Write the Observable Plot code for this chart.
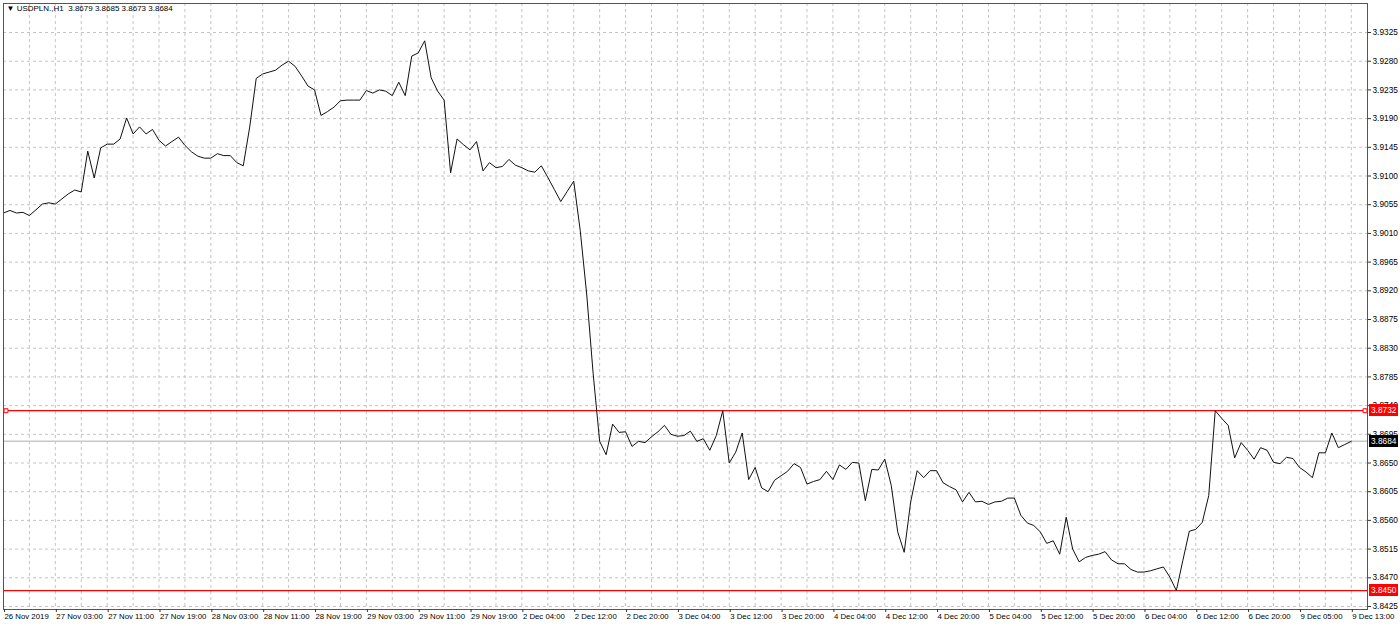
<!DOCTYPE html>
<html>
<head>
<meta charset="utf-8">
<script src="https://cdn.jsdelivr.net/npm/d3@7"></script>
<script src="https://cdn.jsdelivr.net/npm/@observablehq/plot@0.6"></script>
<style>
  html, body { margin: 0; padding: 0; background: #fff; }
  #chart svg { display: block; }
</style>
</head>
<body>
<div id="chart"></div>
<script>
// ---- data (hourly closes, USDPLN H1, 26 Nov 2019 19:00 .. 9 Dec 2019 13:00) ----
const closes = [
  3.9042, 3.9046, 3.9042, 3.9043, 3.9038, 3.9047, 3.9056, 3.9058, 3.9056, 3.9064,
  3.9072, 3.9078, 3.9075, 3.9139, 3.9097, 3.9144, 3.9150, 3.9150, 3.9158, 3.9191,
  3.9166, 3.9177, 3.9166, 3.9173, 3.9156, 3.9147, 3.9154, 3.9161, 3.9148, 3.9138,
  3.9131, 3.9128, 3.9128, 3.9135, 3.9132, 3.9132, 3.9121, 3.9116, 3.9177, 3.9253,
  3.9260, 3.9263, 3.9266, 3.9274, 3.9280, 3.9272, 3.9257, 3.9241, 3.9235, 3.9195,
  3.9201, 3.9208, 3.9218, 3.9219, 3.9219, 3.9219, 3.9234, 3.9230, 3.9235, 3.9233,
  3.9226, 3.9247, 3.9226, 3.9288, 3.9293, 3.9312, 3.9254, 3.9233, 3.9219, 3.9105,
  3.9158, 3.9149, 3.9141, 3.9154, 3.9108, 3.9121, 3.9113, 3.9115, 3.9126, 3.9117,
  3.9113, 3.9108, 3.9106, 3.9116, 3.9098, 3.9079, 3.9060, 3.9076, 3.9092, 3.9015,
  3.8915, 3.8790, 3.8684, 3.8663, 3.8711, 3.8698, 3.8699, 3.8676, 3.8684, 3.8682,
  3.8691, 3.8699, 3.8709, 3.8695, 3.8692, 3.8693, 3.8700, 3.8684, 3.8688, 3.8670,
  3.8693, 3.8732, 3.8650, 3.8667, 3.8697, 3.8624, 3.8643, 3.8611, 3.8605, 3.8623,
  3.8630, 3.8637, 3.8649, 3.8643, 3.8617, 3.8621, 3.8624, 3.8637, 3.8624, 3.8647,
  3.8640, 3.8651, 3.8650, 3.8591, 3.8640, 3.8639, 3.8656, 3.8615, 3.8542, 3.8510,
  3.8589, 3.8638, 3.8627, 3.8638, 3.8638, 3.8619, 3.8613, 3.8608, 3.8589, 3.8604,
  3.8589, 3.8590, 3.8585, 3.8589, 3.8590, 3.8595, 3.8595, 3.8568, 3.8556, 3.8552,
  3.8542, 3.8524, 3.8528, 3.8507, 3.8565, 3.8515, 3.8495, 3.8502, 3.8505, 3.8507,
  3.8511, 3.8498, 3.8492, 3.8492, 3.8483, 3.8479, 3.8479, 3.8481, 3.8484, 3.8487,
  3.8471, 3.8450, 3.8497, 3.8543, 3.8546, 3.8557, 3.8599, 3.8732, 3.8720, 3.8709,
  3.8658, 3.8682, 3.8670, 3.8656, 3.8674, 3.8670, 3.8651, 3.8649, 3.8659, 3.8657,
  3.8643, 3.8636, 3.8627, 3.8666, 3.8666, 3.8697, 3.8674, 3.8679, 3.8684
];

const xTickBars = [0, 8, 16, 24, 32, 40, 48, 56, 64, 72, 80, 88, 96, 104, 112, 120,
                   128, 136, 144, 152, 160, 168, 176, 184, 192, 200, 208];
const xTickLabels = ["26 Nov 2019", "27 Nov 03:00", "27 Nov 11:00", "27 Nov 19:00",
  "28 Nov 03:00", "28 Nov 11:00", "28 Nov 19:00", "29 Nov 03:00", "29 Nov 11:00",
  "29 Nov 19:00", "2 Dec 04:00", "2 Dec 12:00", "2 Dec 20:00", "3 Dec 04:00",
  "3 Dec 12:00", "3 Dec 20:00", "4 Dec 04:00", "4 Dec 12:00", "4 Dec 20:00",
  "5 Dec 04:00", "5 Dec 12:00", "5 Dec 20:00", "6 Dec 04:00", "6 Dec 12:00",
  "6 Dec 20:00", "9 Dec 05:00", "9 Dec 13:00"];

const yTicks = [3.9325, 3.9280, 3.9235, 3.9190, 3.9145, 3.9100, 3.9055, 3.9010,
  3.8965, 3.8920, 3.8875, 3.8830, 3.8785, 3.8740, 3.8695, 3.8650, 3.8605, 3.8560,
  3.8515, 3.8470, 3.8425];

const levels = [3.8732, 3.8450];      // red horizontal lines
const lastPrice = 3.8684;             // current bid
const ohlc = [3.8679, 3.8685, 3.8673, 3.8684];
const symbol = "USDPLN.,H1";

// ---- chart ----
const series = closes.map((c, i) => ({i, c}));
const labelOf = new Map(xTickBars.map((b, k) => [b, xTickLabels[k]]));
const gridBars = d3.range(4, 211, 4);
const boxes = [
  {value: levels[0], bg: "#ff0000", fg: "#ffffff"},
  {value: lastPrice, bg: "#000000", fg: "#ffffff"},
  {value: levels[1], bg: "#ff0000", fg: "#ffffff"}
];

function priceBoxes(index, scales, values, dims) {
  const g = d3.create("svg:g").attr("text-anchor", "start");
  const x0 = dims.width - dims.marginRight + 2;
  for (const b of boxes) {
    const y = Math.round(scales.y(b.value));
    g.append("rect").attr("x", x0).attr("y", y - 6).attr("width", 29).attr("height", 12).attr("fill", b.bg);
    g.append("text").attr("x", x0 + 2).attr("y", y).attr("dy", "0.35em").attr("text-anchor", "start")
      .attr("fill", b.fg).attr("font-size", "8.3px").text(b.value.toFixed(4));
  }
  return g.node();
}

const chart = Plot.plot({
  width: 1400,
  height: 626,
  marginLeft: 3,
  marginRight: 33,
  marginTop: 3,
  marginBottom: 17,
  style: {fontFamily: "'Liberation Sans', Arial, sans-serif", fontSize: "8px", background: "#ffffff", color: "#000"},
  x: {domain: [0, 210.5], axis: null},
  y: {domain: [3.84203, 3.93705], axis: null},
  marks: [
    Plot.ruleY(yTicks, {stroke: "#c4c4c4", strokeDasharray: "3,3"}),
    Plot.ruleX(gridBars, {stroke: "#c4c4c4", strokeDasharray: "3,3"}),
    Plot.ruleY([lastPrice], {stroke: "#c8c8c8", strokeWidth: 1.5}),
    Plot.ruleY(levels, {stroke: "#ff0000", strokeWidth: 1.3}),
    Plot.dot([levels[0]], {y: d => d, frameAnchor: "left", dx: 2.5, symbol: "square", r: 2.2, stroke: "#ff0000", fill: "#fff", strokeWidth: 1}),
    Plot.dot([levels[0]], {y: d => d, frameAnchor: "right", dx: -2.5, symbol: "square", r: 2.2, stroke: "#ff0000", fill: "#fff", strokeWidth: 1}),
    Plot.line(series, {x: "i", y: "c", stroke: "#111", strokeWidth: 1}),
    Plot.frame({stroke: "#555", strokeWidth: 1}),
    Plot.axisY({anchor: "right", ticks: yTicks, tickFormat: d => d.toFixed(4), tickSize: 3, tickPadding: 2, label: null, stroke: "#333", fontSize: 8.3}),
    Plot.axisX({anchor: "bottom", ticks: xTickBars, tickFormat: d => labelOf.get(d), tickSize: 3, tickPadding: 1, textAnchor: "start", dx: 1, label: null, stroke: "#333", fontSize: 7.8}),
    priceBoxes,
    Plot.text([`\u25BC ${symbol}  ${ohlc.map(v => v.toFixed(4)).join(" ")}`], {frameAnchor: "top-left", dx: 3, dy: 2, textAnchor: "start", lineAnchor: "top", fill: "#000", fontSize: 8})
  ]
});
document.getElementById("chart").appendChild(chart);
</script>
</body>
</html>
